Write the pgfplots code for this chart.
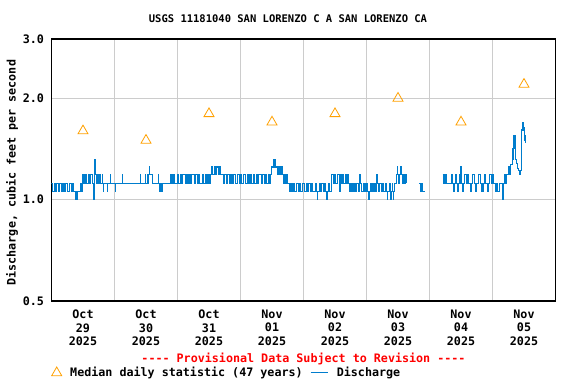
\documentclass[border=0pt]{standalone}
\usepackage{pgfplots}
\pgfplotsset{compat=1.18}
\usepackage{fontspec}
\setmonofont{DejaVu Sans Mono}
\definecolor{qblue}{RGB}{0,125,205}
\definecolor{qorange}{RGB}{255,160,0}
\definecolor{qgrid}{RGB}{204,204,204}
\newcommand{\cf}{\fontsize{11.7}{13.3}\selectfont\ttfamily\bfseries}
\begin{document}
\begin{tikzpicture}
\path[use as bounding box] (-51.5pt,-83pt) rectangle (524.5pt,301pt);
\begin{axis}[
  at={(0pt,0pt)}, anchor=south west,
  scale only axis, width=504pt, height=262pt,
  xmin=0, xmax=192,
  ymode=log, ymin=0.5, ymax=3,
  xtick={12,36,60,84,108,132,156,180},
  xticklabels={{Oct\\29\\2025},{Oct\\30\\2025},{Oct\\31\\2025},{Nov\\01\\2025},{Nov\\02\\2025},{Nov\\03\\2025},{Nov\\04\\2025},{Nov\\05\\2025}},
  xticklabel style={align=center, font=\cf, yshift=-5.5pt},
  yticklabel style={font=\cf, xshift=-4pt},
  /pgf/number format/assume math mode=true,
  minor xtick={24,48,72,96,120,144,168},
  xminorgrids=true, xmajorgrids=false,
  ytick={0.5,1,2,3},
  yticklabels={0.5,1.0,2.0,3.0},
  yminorticks=false,
  ymajorgrids=true,
  grid style={qgrid, line width=1pt},
  minor grid style={qgrid, line width=1pt},
  major tick length=0pt, minor tick length=0pt,
  axis line style={black, line width=1.2pt},
  ylabel={Discharge, cubic feet per second},
  ylabel style={font=\cf, at={(axis description cs:-0.078,0.49)}, anchor=center},
  legend columns=2,
  legend style={at={(axis description cs:0,-0.274)}, anchor=west, draw=none, fill=none, inner sep=0pt, font=\cf,
    /tikz/every odd column/.append style={column sep=6.5pt},
    /tikz/every even column/.append style={column sep=5.5pt}},
  clip=true,
]
\addplot[only marks, mark=triangle, mark size=5.8pt, color=qorange, mark options={line width=0.8pt}]
 coordinates {(12,1.6) (36,1.5) (60,1.8) (84,1.7) (108,1.8) (132,2.0) (156,1.7) (180,2.2)};
\addlegendentry{Median daily statistic (47 years)}
\addplot[color=qblue, line width=1.1pt, const plot, unbounded coords=jump] table {
x y
0 1.12
0.5 1.06
1 1.12
1.5 1.06
2 1.12
2.5 1.06
3 1.12
3.5 1.12
4 1.06
4.5 1.12
5 1.06
5.5 1.12
6 1.06
6.5 1.06
7 1.12
7.5 1.06
8 1.12
8.5 1.06
9 1.06
9.2 1.00
9.4 1.06
9.8 1.00
10 1.06
10.7 1.06
10.9 1.12
11.4 1.12
11.5 1.06
11.7 1.12
12 1.19
12.5 1.12
13 1.19
13.5 1.12
14 1.19
14.5 1.12
15 1.19
15.5 1.12
16 1.12
16.1 1.00
16.3 1.12
16.5 1.32
16.7 1.19
17 1.12
17.5 1.19
18 1.12
18.4 1.19
18.6 1.12
19.3 1.12
19.4 1.19
19.5 1.12
19.7 1.06
19.9 1.12
21.2 1.12
21.3 1.06
21.4 1.12
22.3 1.12
22.4 1.19
22.5 1.12
24.2 1.12
24.3 1.06
24.4 1.12
26.8 1.12
26.9 1.19
27 1.12
33.7 1.12
33.8 1.19
33.9 1.12
35.6 1.12
35.7 1.19
35.8 1.12
36.3 1.12
36.4 1.19
36.7 1.12
37 1.19
37.3 1.25
37.5 1.19
38.3 1.19
38.4 1.12
40.5 1.12
40.6 1.19
40.8 1.19
40.9 1.12
41.2 1.06
41.5 1.06
41.6 1.12
41.9 1.06
42.3 1.06
42.4 1.12
45.2 1.12
45.3 1.19
45.6 1.12
45.9 1.19
46.2 1.12
46.5 1.19
46.7 1.12
47.8 1.12
48.1 1.19
48.5 1.12
49 1.19
49.5 1.12
50 1.19
50.5 1.19
51 1.12
51.5 1.19
52 1.12
52.5 1.19
53 1.12
53.5 1.19
54 1.19
54.5 1.12
55 1.19
55.5 1.12
56 1.19
56.5 1.12
57 1.12
57.5 1.19
58 1.12
58.5 1.19
59 1.12
59.5 1.19
60 1.12
60.5 1.19
61 1.25
61.5 1.19
62 1.25
62.5 1.19
63 1.25
63.5 1.19
64 1.25
64.2 1.19
65 1.19
65.5 1.12
66 1.19
66.5 1.12
67 1.19
67.5 1.19
68 1.12
68.5 1.19
69 1.12
69.5 1.19
70 1.12
70.5 1.12
71 1.19
71.5 1.12
72 1.19
72.5 1.12
73 1.19
73.5 1.19
74 1.12
74.5 1.19
75 1.12
75.5 1.19
76 1.12
76.5 1.12
77 1.19
77.5 1.12
78 1.19
78.5 1.12
79 1.19
79.5 1.19
80 1.12
80.5 1.19
81 1.12
81.5 1.19
82 1.12
82.5 1.19
83 1.12
83.5 1.19
83.8 1.25
84.3 1.25
84.5 1.32
84.8 1.25
85.2 1.32
85.5 1.25
86 1.25
86.3 1.19
86.7 1.25
87.1 1.19
87.6 1.25
88.1 1.19
88.5 1.12
88.9 1.19
89.3 1.12
89.7 1.19
90 1.12
90.5 1.06
91 1.12
91.5 1.06
92 1.12
92.5 1.06
93 1.06
93.5 1.12
94 1.06
94.5 1.12
95 1.06
95.5 1.12
96 1.12
96.5 1.06
97 1.12
97.5 1.06
98 1.12
98.5 1.06
99 1.12
99.5 1.06
100 1.06
100.5 1.12
101 1.06
101.3 1.00
101.5 1.06
102 1.12
102.5 1.06
103 1.12
103.5 1.06
104 1.12
104.5 1.06
104.8 1.00
105 1.06
105.5 1.12
106 1.06
106.5 1.12
106.8 1.19
107.3 1.12
107.8 1.19
108.3 1.12
108.8 1.19
109.3 1.19
109.7 1.06
109.9 1.19
110.4 1.12
110.9 1.19
111.4 1.12
111.9 1.19
112.4 1.12
112.9 1.19
113.2 1.12
113.6 1.06
114.1 1.12
114.6 1.06
115.1 1.12
115.6 1.06
116.1 1.12
116.6 1.12
117.1 1.06
117.5 1.19
117.7 1.12
118.2 1.06
118.7 1.12
119.2 1.06
119.7 1.12
120.2 1.06
120.7 1.06
120.9 1.00
121.1 1.06
121.6 1.12
122.1 1.06
122.6 1.12
123.1 1.06
123.6 1.12
123.9 1.19
124.1 1.12
124.6 1.06
125.1 1.12
125.6 1.06
126.1 1.12
126.6 1.06
127.1 1.12
127.6 1.06
127.9 1.00
128.1 1.06
128.6 1.12
129 1.06
129.2 1.00
129.4 1.06
129.8 1.12
130 1.06
130.2 1.00
130.4 1.06
130.6 1.12
131.2 1.12
131.4 1.19
131.7 1.25
131.9 1.19
132.3 1.12
132.7 1.19
133 1.25
133.2 1.19
133.6 1.12
134 1.19
134.4 1.12
134.8 1.19
135.3 1.12
137 nan
140 1.12
140.4 1.06
140.8 1.12
141.2 1.06
141.6 1.06
142 1.06
142.3 1.06
145 nan
149 1.19
149.4 1.19
149.5 1.12
149.9 1.19
150.3 1.19
150.5 1.12
151 1.12
151.5 1.12
152 1.12
152.5 1.19
152.8 1.12
153.2 1.06
153.6 1.12
154 1.19
154.4 1.12
154.8 1.06
155.2 1.12
155.6 1.19
156 1.25
156.2 1.12
156.6 1.06
157 1.12
157.5 1.19
158 1.12
158.5 1.19
159 1.12
159.5 1.06
160 1.12
160.5 1.19
161 1.12
161.5 1.06
162 1.12
162.5 1.19
163 1.19
163.5 1.12
164 1.06
164.5 1.12
165 1.19
165.5 1.12
166 1.06
166.5 1.12
167 1.19
167.5 1.12
168 1.19
168.5 1.12
169 1.06
169.5 1.12
170 1.06
170.5 1.12
171 1.12
171.5 1.12
171.8 1.00
172 1.12
172.5 1.12
172.7 1.19
173 1.12
173.3 1.19
173.6 1.19
174 1.25
174.3 1.19
174.7 1.27
175.2 1.27
175.5 1.32
175.8 1.42
176 1.55
176.2 1.42
176.4 1.55
176.6 1.38
176.8 1.32
177.1 1.28
177.4 1.24
177.8 1.22
178.1 1.22
178.4 1.19
178.7 1.22
178.9 1.45
179.1 1.61
179.3 1.69
179.5 1.61
179.7 1.69
179.9 1.61
180.1 1.64
180.3 1.50
180.5 1.55
180.7 1.47
};
\addlegendentry{Discharge}
\end{axis}
\node[font=\cf, text=red, anchor=center] at (252pt,-58pt) {-{}-{}-{}- Provisional Data Subject to Revision -{}-{}-{}-};
\node[font=\fontsize{10.5}{12}\selectfont\ttfamily\bfseries, anchor=center] at (236.5pt,282pt) {USGS 11181040 SAN LORENZO C A SAN LORENZO CA};
\end{tikzpicture}
\end{document}
